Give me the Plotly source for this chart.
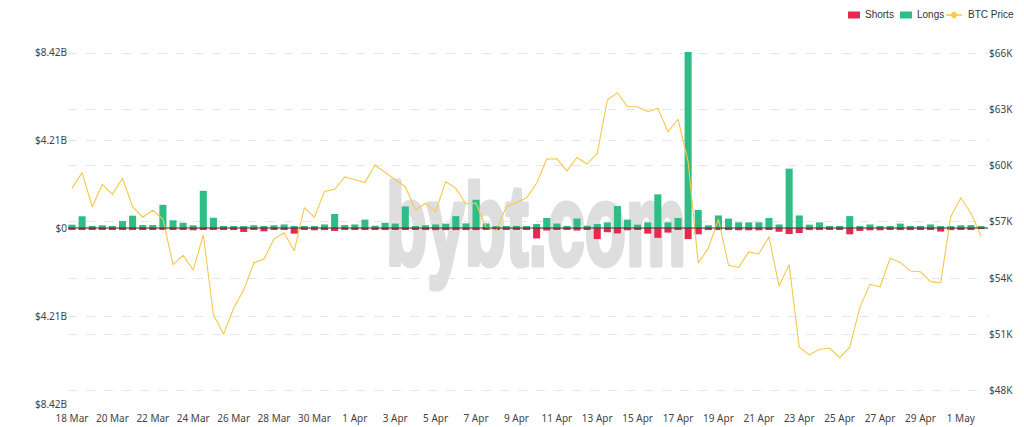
import base64
import pandas as pd
import plotly.graph_objects as go

# ---------------- data ----------------
start_time = "2021-03-18 00:00"
n_periods = 91
timestamps = pd.date_range(start_time, periods=n_periods, freq="12h")

# Long liquidations (billions USD)
longs_b = [
    0.16, 0.56, 0.10, 0.13, 0.10, 0.33, 0.59, 0.14, 0.14, 1.11,
    0.37, 0.25, 0.13, 1.78, 0.49, 0.10, 0.08, 0.05, 0.13, 0.08,
    0.13, 0.17, 0.10, 0.10, 0.08, 0.17, 0.67, 0.14, 0.17, 0.40,
    0.11, 0.25, 0.21, 1.03, 0.06, 0.13, 0.17, 0.21, 0.57, 0.22,
    1.35, 0.22, 0.06, 0.05, 0.10, 0.08, 0.19, 0.48, 0.21, 0.10,
    0.45, 0.11, 0.19, 0.27, 1.05, 0.40, 0.16, 0.27, 1.61, 0.27,
    0.48, 8.42, 0.86, 0.13, 0.60, 0.45, 0.27, 0.27, 0.27, 0.48,
    0.17, 2.84, 0.60, 0.16, 0.27, 0.08, 0.10, 0.57, 0.08, 0.17,
    0.10, 0.10, 0.21, 0.10, 0.10, 0.17, 0.06, 0.08, 0.13, 0.14, 0.08,
]

# Short liquidations (billions USD, magnitude)
shorts_b = [
    0.06, 0.06, 0.06, 0.06, 0.08, 0.06, 0.08, 0.06, 0.06, 0.08,
    0.08, 0.08, 0.11, 0.08, 0.08, 0.08, 0.10, 0.19, 0.06, 0.16,
    0.06, 0.06, 0.27, 0.06, 0.11, 0.06, 0.14, 0.08, 0.08, 0.08,
    0.06, 0.10, 0.06, 0.06, 0.05, 0.06, 0.10, 0.10, 0.10, 0.10,
    0.10, 0.06, 0.05, 0.05, 0.05, 0.06, 0.50, 0.12, 0.05, 0.05,
    0.12, 0.05, 0.53, 0.20, 0.26, 0.11, 0.05, 0.27, 0.47, 0.22,
    0.06, 0.53, 0.30, 0.10, 0.10, 0.10, 0.11, 0.11, 0.11, 0.06,
    0.18, 0.29, 0.24, 0.10, 0.08, 0.05, 0.05, 0.30, 0.14, 0.11,
    0.11, 0.06, 0.10, 0.10, 0.06, 0.05, 0.17, 0.10, 0.05, 0.05, 0.03,
]

# BTC price (thousands USD)
btc_price_k = [
    58.79, 59.63, 57.81, 59.00, 58.47, 59.33, 57.81, 57.25, 57.62, 57.15,
    54.72, 55.22, 54.43, 56.30, 52.07, 51.00, 52.39, 53.36, 54.82, 55.02,
    56.09, 56.42, 55.45, 57.76, 57.25, 58.63, 58.74, 59.40, 59.25, 59.10,
    60.04, 59.63, 59.25, 58.88, 57.64, 58.00, 57.55, 59.15, 58.79, 57.96,
    58.00, 56.70, 56.55, 57.81, 58.05, 58.27, 59.06, 60.35, 60.37, 59.73,
    60.44, 60.09, 60.65, 63.51, 63.90, 63.15, 63.15, 62.88, 63.06, 61.82,
    62.48, 60.20, 54.80, 55.60, 57.14, 54.68, 54.57, 55.40, 55.29, 56.21,
    53.58, 54.72, 50.31, 49.90, 50.20, 50.27, 49.75, 50.31, 52.44, 53.67,
    53.54, 55.06, 54.84, 54.38, 54.34, 53.81, 53.75, 57.28, 58.29, 57.46, 56.25,
]

x_tick_vals = pd.date_range("2021-03-18", "2021-05-01", freq="2D")
x_tick_text = [
    "18 Mar", "20 Mar", "22 Mar", "24 Mar", "26 Mar", "28 Mar", "30 Mar",
    "1 Apr", "3 Apr", "5 Apr", "7 Apr", "9 Apr", "11 Apr", "13 Apr", "15 Apr",
    "17 Apr", "19 Apr", "21 Apr", "23 Apr", "25 Apr", "27 Apr", "29 Apr", "1 May",
]

left_tick_vals = [-8.42, -4.21, 0, 4.21, 8.42]
left_tick_text = ["$8.42B", "$4.21B", "$0", "$4.21B", "$8.42B"]
right_tick_vals = [48, 51, 54, 57, 60, 63, 66]
right_tick_text = ["$48K", "$51K", "$54K", "$57K", "$60K", "$63K", "$66K"]

legend_labels = ["Shorts", "Longs", "BTC Price"]

# ---------------- styles ----------------
GREEN = "#2ebd85"
RED = "#e8294f"
GOLD = "#f6c84a"
FONT = "Noto Sans, Open Sans, sans-serif"
LEGEND_FONT = "Liberation Sans, Arial, sans-serif"

# plot area in pixels (for placing legend / watermark)
PL, PR, PT, PB = 68, 988, 52, 404
PW, PH = PR - PL, PB - PT


def px_x(px):
    return (px - PL) / PW


def px_y(py):
    return (PB - py) / PH


fig = go.Figure()

fig.add_trace(go.Bar(
    x=timestamps, y=[-v for v in shorts_b], name=legend_labels[0],
    marker=dict(color=RED, line=dict(width=0)), yaxis="y",
))
fig.add_trace(go.Bar(
    x=timestamps, y=longs_b, name=legend_labels[1],
    marker=dict(color=GREEN, line=dict(width=0)), yaxis="y",
))
fig.add_trace(go.Scatter(
    x=timestamps, y=btc_price_k, name=legend_labels[2], mode="lines",
    line=dict(color=GOLD, width=1.1), yaxis="y2",
))

# watermark text below the plot
svg = (
    '<svg xmlns="http://www.w3.org/2000/svg" width="320" height="140" viewBox="0 0 320 140">'
    '<text x="6" y="100" font-family="Liberation Sans, Arial, sans-serif" font-weight="bold" '
    'font-size="115" fill="#dedede" stroke="#dedede" stroke-width="5" stroke-linejoin="round" '
    'textLength="300" lengthAdjust="spacingAndGlyphs">bybt.com</text>'
    '</svg>'
)
svg_uri = "data:image/svg+xml;base64," + base64.b64encode(svg.encode()).decode()

# legend drawn at exact positions (icons + text)
legend_y = 15
shapes = [
    dict(type="line", xref="paper", yref="y", x0=0, x1=1, y0=0, y1=0,
         line=dict(color="#333333", width=1), layer="above"),
    dict(type="rect", xref="paper", yref="paper",
         x0=px_x(848), x1=px_x(860), y0=px_y(legend_y + 3.5), y1=px_y(legend_y - 3.5),
         fillcolor=RED, line=dict(width=0)),
    dict(type="rect", xref="paper", yref="paper",
         x0=px_x(900), x1=px_x(912), y0=px_y(legend_y + 3.5), y1=px_y(legend_y - 3.5),
         fillcolor=GREEN, line=dict(width=0)),
    dict(type="line", xref="paper", yref="paper",
         x0=px_x(946), x1=px_x(962), y0=px_y(legend_y), y1=px_y(legend_y),
         line=dict(color=GOLD, width=1.5)),
    dict(type="path", xref="paper", yref="paper",
         path="M {a},{b} L {c},{d} L {e},{b} L {c},{f} Z".format(
             a=px_x(950.5), b=px_y(legend_y), c=px_x(954), d=px_y(legend_y - 3.5),
             e=px_x(957.5), f=px_y(legend_y + 3.5)),
         fillcolor=GOLD, line=dict(color=GOLD, width=1)),
]
annotations = [
    dict(text=legend_labels[0], x=px_x(863), y=px_y(legend_y)),
    dict(text=legend_labels[1], x=px_x(915), y=px_y(legend_y)),
    dict(text=legend_labels[2], x=px_x(966), y=px_y(legend_y)),
]
for a in annotations:
    a.update(xref="paper", yref="paper", xanchor="left", yanchor="middle",
             showarrow=False, font=dict(family=LEGEND_FONT, size=10, color="#333"))

fig.update_layout(
    width=1024, height=427,
    margin=dict(l=PL, r=1024 - PR, t=PT, b=427 - PB, pad=0, autoexpand=False),
    paper_bgcolor="white",
    plot_bgcolor="rgba(0,0,0,0)",
    barmode="relative",
    bargap=0.3,
    font=dict(family=FONT, size=10, color="#444"),
    showlegend=False,
    xaxis=dict(
        type="date",
        range=["2021-03-17 19:15", "2021-05-02 08:15"],
        tickvals=list(x_tick_vals), ticktext=x_tick_text,
        showgrid=False, zeroline=False, showline=False,
        ticks="outside", ticklen=5, tickcolor="rgba(0,0,0,0)",
        tickfont=dict(size=10, color="#444"),
    ),
    yaxis=dict(
        range=[-8.42, 8.42],
        tickvals=left_tick_vals, ticktext=left_tick_text,
        showgrid=True, gridcolor="#e6e6e6", griddash="dash", gridwidth=1,
        zeroline=False, showline=False, ticks="",
        tickfont=dict(size=10, color="#444"),
    ),
    yaxis2=dict(
        overlaying="y", side="right",
        range=[47.28, 66.07],
        tickvals=right_tick_vals, ticktext=right_tick_text,
        showgrid=True, gridcolor="#e6e6e6", griddash="dash", gridwidth=1,
        zeroline=False, showline=False, ticks="",
        tickfont=dict(size=10, color="#444"),
    ),
    images=[dict(
        source=svg_uri, xref="paper", yref="paper",
        x=px_x(380), y=px_y(165),
        sizex=320 / PW, sizey=140 / PH,
        xanchor="left", yanchor="top", sizing="stretch", layer="below",
    )],
    shapes=shapes,
    annotations=annotations,
)

fig.write_html(
    "out.html",
    config={"displayModeBar": False},
    post_script="document.body.style.margin='0';",
)
